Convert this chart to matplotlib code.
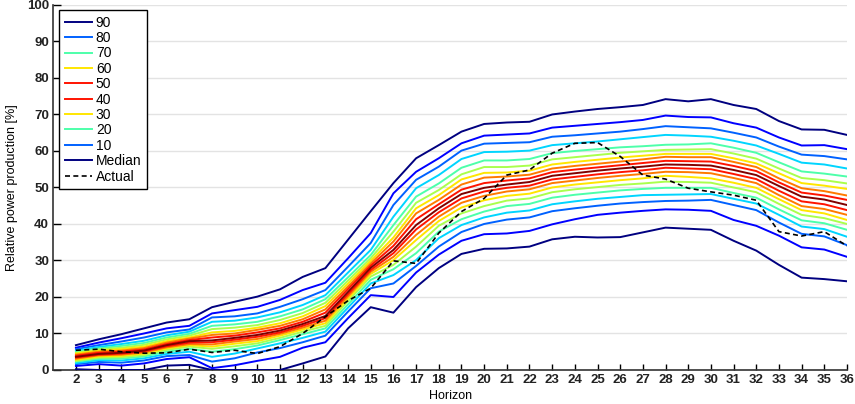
import numpy as np
import matplotlib
matplotlib.use("Agg")
import matplotlib.pyplot as plt

plt.rcParams['font.family'] = ['Liberation Sans', 'DejaVu Sans']

horizon = list(range(2, 37))

# quantile lines (values in % for horizon 2..36)
q05 = [0.2, 0.0, 0.0, 0.0, 1.2, 1.4, 0.0, 0.0, 0.0, 0.0, 1.8, 3.7, 11.4, 17.2, 15.7, 22.7, 27.9, 31.8, 33.2, 33.3, 33.8, 35.8, 36.5, 36.3, 36.4, 37.7, 39.0, 38.7, 38.4, 35.4, 32.7, 28.8, 25.3, 24.9, 24.3]
q10 = [1.1, 1.6, 1.2, 1.8, 3.0, 3.5, 0.5, 1.3, 2.5, 3.6, 6.1, 7.6, 14.2, 20.5, 20.0, 26.7, 31.6, 35.4, 37.2, 37.4, 38.1, 39.9, 41.3, 42.5, 43.1, 43.6, 44.0, 43.9, 43.6, 41.1, 39.5, 36.8, 33.6, 33.0, 31.0]
q15 = [1.6, 2.2, 2.0, 2.6, 3.8, 4.1, 2.3, 3.2, 4.8, 6.0, 7.6, 9.4, 16.0, 22.4, 23.7, 28.5, 33.8, 37.8, 40.0, 41.2, 41.8, 43.5, 44.3, 45.0, 45.6, 46.0, 46.3, 46.4, 46.6, 45.2, 43.8, 40.4, 37.3, 36.6, 34.2]
q20 = [1.9, 2.7, 2.6, 3.2, 4.4, 5.0, 3.6, 4.5, 5.9, 7.3, 8.8, 10.5, 17.1, 23.7, 26.0, 30.1, 36.1, 39.7, 41.8, 43.1, 43.7, 45.4, 46.2, 46.9, 47.4, 47.9, 48.0, 48.1, 48.2, 46.9, 45.6, 42.5, 39.3, 38.6, 36.5]
q25 = [2.3, 3.1, 3.1, 3.7, 5.0, 5.8, 5.0, 5.7, 6.7, 8.2, 9.8, 11.4, 18.0, 24.7, 27.6, 32.0, 37.9, 41.3, 43.4, 44.9, 45.5, 47.2, 48.0, 48.6, 49.2, 49.6, 49.9, 49.9, 49.9, 48.5, 47.2, 44.0, 41.0, 40.2, 38.4]
q30 = [2.5, 3.4, 3.5, 4.1, 5.5, 6.4, 5.8, 6.5, 7.3, 8.8, 10.5, 12.1, 18.9, 25.6, 28.8, 33.8, 39.5, 42.9, 44.9, 46.4, 47.0, 48.7, 49.5, 50.1, 50.7, 51.1, 51.6, 51.5, 51.3, 50.0, 48.7, 45.5, 42.5, 41.6, 40.0]
q35 = [2.8, 3.7, 3.9, 4.5, 5.9, 6.8, 6.4, 7.2, 7.9, 9.4, 11.1, 12.8, 19.6, 26.3, 30.1, 35.6, 40.8, 44.5, 46.5, 47.7, 48.3, 50.0, 50.8, 51.4, 52.0, 52.5, 53.2, 52.9, 52.5, 51.3, 49.9, 46.8, 43.8, 42.9, 41.1]
q40 = [3.1, 4.0, 4.2, 4.8, 6.2, 7.1, 7.0, 7.8, 8.5, 9.9, 11.6, 13.5, 20.2, 26.9, 31.0, 37.0, 42.0, 45.8, 47.7, 48.9, 49.5, 51.2, 51.9, 52.6, 53.2, 53.7, 54.3, 54.2, 53.9, 52.6, 51.2, 47.9, 44.9, 44.1, 42.5]
q45 = [3.4, 4.2, 4.5, 5.1, 6.5, 7.5, 7.6, 8.3, 9.1, 10.3, 12.1, 14.2, 20.8, 27.4, 32.0, 38.5, 43.2, 47.0, 48.9, 49.9, 50.5, 52.2, 52.9, 53.6, 54.2, 54.7, 55.4, 55.2, 55.0, 53.7, 52.3, 49.1, 46.2, 45.4, 43.8]
q50 = [3.6, 4.4, 4.7, 5.3, 6.8, 7.9, 8.1, 8.8, 9.6, 10.8, 12.6, 14.8, 21.4, 28.0, 32.9, 39.7, 44.3, 48.2, 49.9, 50.8, 51.5, 53.2, 53.9, 54.6, 55.2, 55.7, 56.3, 56.2, 56.0, 54.8, 53.4, 50.4, 47.5, 46.7, 45.2]
q55 = [3.9, 4.7, 5.0, 5.6, 7.1, 8.2, 8.9, 9.4, 10.3, 11.4, 13.2, 15.7, 22.2, 28.6, 34.0, 41.3, 45.4, 49.4, 51.2, 51.9, 52.5, 54.2, 54.9, 55.5, 56.1, 56.7, 57.3, 57.2, 57.1, 55.9, 54.5, 51.4, 48.6, 47.8, 46.6]
q60 = [4.2, 5.0, 5.3, 6.0, 7.5, 8.6, 9.6, 10.0, 11.0, 12.1, 13.9, 16.6, 22.9, 29.2, 35.2, 42.9, 46.6, 50.8, 52.7, 53.0, 53.5, 55.2, 55.9, 56.5, 57.1, 57.7, 58.4, 58.3, 58.3, 57.0, 55.6, 52.5, 49.8, 49.0, 47.8]
q65 = [4.5, 5.3, 5.7, 6.4, 7.9, 8.9, 10.3, 10.7, 11.6, 12.8, 14.7, 17.5, 23.7, 29.9, 36.3, 44.3, 47.9, 52.2, 54.0, 54.1, 54.6, 56.3, 57.0, 57.6, 58.2, 58.7, 59.2, 59.2, 59.2, 58.0, 56.6, 53.9, 51.2, 50.5, 49.6]
q70 = [4.7, 5.6, 6.1, 6.9, 8.4, 9.4, 11.2, 11.6, 12.3, 13.7, 15.6, 18.4, 24.5, 30.6, 37.9, 45.8, 49.3, 53.6, 55.6, 55.6, 56.0, 57.7, 58.3, 58.9, 59.5, 59.9, 60.3, 60.4, 60.5, 59.3, 57.9, 55.2, 52.6, 52.0, 51.1]
q75 = [5.0, 5.9, 6.6, 7.4, 8.9, 9.9, 12.1, 12.5, 13.2, 14.7, 16.6, 19.4, 25.4, 31.5, 39.7, 47.5, 51.1, 55.4, 57.4, 57.4, 57.8, 59.4, 60.0, 60.5, 61.0, 61.3, 61.7, 61.8, 62.1, 60.9, 59.5, 56.9, 54.4, 53.8, 53.0]
q80 = [5.3, 6.3, 7.1, 8.0, 9.5, 10.5, 13.2, 13.5, 14.4, 15.8, 17.8, 20.5, 26.7, 32.9, 42.0, 49.8, 53.4, 57.8, 59.7, 59.8, 60.1, 61.6, 62.1, 62.6, 63.2, 63.8, 64.4, 64.2, 63.9, 62.8, 61.5, 59.2, 56.8, 56.3, 55.2]
q85 = [5.7, 6.8, 7.8, 8.9, 10.3, 11.1, 14.4, 14.7, 15.5, 17.3, 19.4, 21.9, 28.3, 34.8, 45.2, 52.1, 55.7, 60.1, 62.0, 62.2, 62.4, 63.9, 64.3, 64.8, 65.3, 66.0, 66.8, 66.5, 66.2, 65.0, 63.7, 61.2, 59.0, 58.6, 57.7]
q90 = [6.1, 7.5, 8.7, 10.0, 11.4, 12.1, 15.5, 16.4, 17.3, 19.2, 21.9, 23.9, 30.6, 37.5, 48.4, 54.3, 58.0, 62.1, 64.2, 64.5, 64.8, 66.4, 66.9, 67.4, 67.9, 68.5, 69.7, 69.3, 69.2, 67.6, 66.4, 63.7, 61.5, 61.6, 60.5]
q95 = [6.8, 8.4, 9.8, 11.4, 13.0, 13.9, 17.2, 18.7, 20.1, 22.1, 25.5, 27.9, 35.7, 43.5, 51.2, 58.0, 61.6, 65.3, 67.4, 67.8, 68.0, 70.0, 70.8, 71.5, 72.0, 72.6, 74.2, 73.6, 74.2, 72.6, 71.5, 68.2, 65.9, 65.8, 64.4]

actual = [5.4, 5.7, 5.0, 4.6, 4.7, 5.7, 4.8, 5.4, 4.5, 6.4, 10.0, 14.6, 19.0, 22.4, 29.9, 29.2, 37.5, 43.4, 47.0, 53.4, 54.8, 59.4, 62.1, 62.3, 58.5, 53.4, 52.3, 49.8, 48.8, 47.9, 46.5, 37.9, 36.7, 37.9, 34.0]

quantiles = [5, 10, 15, 20, 25, 30, 35, 40, 45, 50, 55, 60, 65, 70, 75, 80, 85, 90, 95]
series = [q05, q10, q15, q20, q25, q30, q35, q40, q45, q50,
          q55, q60, q65, q70, q75, q80, q85, q90, q95]
legend_labels = ['90', '80', '70', '60', '50', '40', '30', '20', '10', 'Median', 'Actual']

fig = plt.figure(figsize=(8.55, 4.04), dpi=100)
ax = fig.add_axes([0.0623, 0.0842, 0.9283, 0.9035])

cmap = plt.get_cmap('jet')
lines = {}
for q, vals in zip(quantiles, series):
    d = abs(q - 50) / 5
    color = cmap(1 - d / 9)
    ln, = ax.plot(horizon, vals, color=color, linewidth=1.4,
                  zorder=3 + (9 - d) * 0.1)
    lines[q] = ln

act, = ax.plot(horizon, actual, color='black', linestyle=(0, (3, 2)),
               linewidth=1.2, zorder=5)

ax.set_xlim(1, 36)
ax.set_ylim(0, 100)
ax.set_xticks(horizon)
ax.set_yticks(range(0, 101, 10))
ax.yaxis.grid(True, color='#e3e3e3', linewidth=1.0)
ax.set_axisbelow(True)

for side in ['top', 'right']:
    ax.spines[side].set_visible(False)
for side in ['left', 'bottom']:
    ax.spines[side].set_color('#333333')
    ax.spines[side].set_linewidth(1.2)

ax.tick_params(axis='x', direction='in', length=4.5, width=1,
               labelsize=9.5, pad=3)
ax.tick_params(axis='y', direction='in', length=5.5, width=1,
               labelsize=9.5, pad=3)
for lab in ax.get_xticklabels() + ax.get_yticklabels():
    lab.set_fontweight('bold')
    lab.set_color('#222222')

ax.set_xlabel('Horizon', fontsize=9, labelpad=3)
ax.set_ylabel('Relative power production [%]', fontsize=9)
ax.yaxis.set_label_coords(-0.044, 0.5)

handles = [lines[q] for q in [5, 15, 25, 35, 45, 55, 65, 75, 85, 95]] + [act]
leg = ax.legend(handles, legend_labels, loc='upper left',
                bbox_to_anchor=(0.0072, 0.986), borderaxespad=0,
                fontsize=10, frameon=True, fancybox=False,
                handlelength=1.95, handletextpad=0.3, labelspacing=0.1,
                borderpad=0.4)
leg.get_frame().set_edgecolor('black')
leg.get_frame().set_linewidth(1.0)
leg.get_frame().set_alpha(1)

fig.savefig('out.png', dpi=100)
